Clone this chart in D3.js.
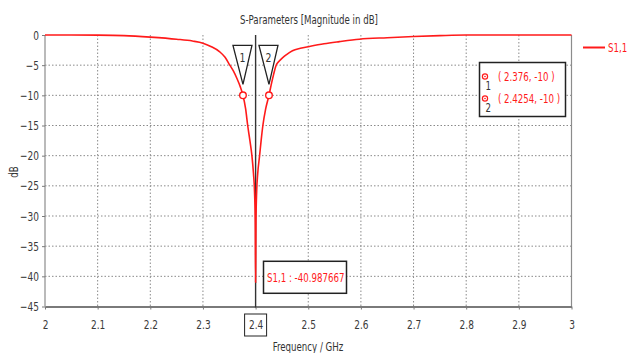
<!DOCTYPE html>
<html><head><meta charset="utf-8">
<script src="https://cdn.jsdelivr.net/npm/d3@7"></script>
<style>
body{margin:0;background:#fff;}
text{font-family:"DejaVu Sans Condensed","DejaVu Sans",sans-serif;}
</style></head>
<body><svg id="c" width="629" height="353"></svg>
<script>
// ---- data ----
const freq = [2.0,2.05,2.1,2.15,2.2,2.25,2.28,2.3,2.315,2.332,2.342,2.351,2.358,2.365,2.371,2.376,2.381,2.385,2.389,2.393,2.396,2.398,2.3993,2.4,2.4007,2.402,2.404,2.4076,2.4105,2.4138,2.419,2.4254,2.43,2.434,2.439,2.445,2.451,2.458,2.47,2.485,2.502,2.53,2.559,2.597,2.65,2.7,2.75,2.8,2.9,3.0];
const s11  = [0,0,-0.02,-0.1,-0.35,-0.7,-1.0,-1.35,-1.9,-2.8,-3.7,-5,-6,-7.3,-8.6,-10,-12.2,-15,-17.4,-20,-23,-26,-31,-40.99,-31,-26,-23,-20,-17.5,-15,-12.3,-10,-8.1,-6.6,-5,-4.3,-3.8,-3.3,-2.6,-2.2,-1.9,-1.45,-1.1,-0.7,-0.45,-0.25,-0.1,0,0,0];
const xTicks = [2,2.1,2.2,2.3,2.4,2.5,2.6,2.7,2.8,2.9,3];
const xTickLabels = ["2","2.1","2.2","2.3","2.4","2.5","2.6","2.7","2.8","2.9","3"];
const yTicks = [0,-5,-10,-15,-20,-25,-30,-35,-40,-45];
const markerNames = ["1","2"];
const markerFreq = [2.376, 2.4254];
const markerVal = [-10, -10];
const markerLabels = ["( 2.376, -10 )","( 2.4254, -10 )"];
const cursorFreq = 2.4;
const minLabel = "S1,1 : -40.987667";
const minVal = -40.987667;
const seriesName = "S1,1";
const title = "S-Parameters [Magnitude in dB]";
const xTitle = "Frequency / GHz";
const yTitle = "dB";

// ---- drawing ----
const svg = d3.select("#c");
const red = "#ff1a1a";
const x = d3.scaleLinear().domain([2,3]).range([45,571.5]);
const y = d3.scaleLinear().domain([-45,0]).range([306.5,35]);

// grid
const g = svg.append("g");
g.selectAll(".gx").data(xTicks.filter(d=>d>2&&d<3&&d!==cursorFreq)).join("line")
  .attr("x1",d=>x(d)).attr("x2",d=>x(d)).attr("y1",y(0)).attr("y2",y(-45))
  .attr("stroke","#8a8a8a").attr("stroke-dasharray","1.5,2").attr("stroke-width",1);
g.selectAll(".gy").data(yTicks.filter(d=>d<0&&d>-45)).join("line")
  .attr("x1",x(2)).attr("x2",x(3)).attr("y1",d=>y(d)).attr("y2",d=>y(d))
  .attr("stroke","#8a8a8a").attr("stroke-dasharray","1.5,2").attr("stroke-width",1);

// frame lines
svg.append("line").attr("x1",x(2)).attr("x2",x(2)).attr("y1",y(0)).attr("y2",y(-45)).attr("stroke","#8c8c8c").attr("stroke-width",1.2);
svg.append("line").attr("x1",x(3)).attr("x2",x(3)).attr("y1",y(0)).attr("y2",y(-45)).attr("stroke","#8c8c8c").attr("stroke-width",1.2);

// axes
const ax = svg.append("g").attr("transform",`translate(0,${y(-45)})`)
  .call(d3.axisBottom(x).tickValues(xTicks).tickFormat((d,i)=>xTickLabels[i]).tickSize(3).tickSizeOuter(0).tickPadding(11));
ax.select(".domain").attr("stroke","#7a7a7a").attr("stroke-width",2);
ax.selectAll(".tick line").attr("stroke","#7a7a7a");
ax.selectAll("text").attr("fill","#3a3a3a").style("font-size","12.5px");

const ay = svg.append("g").attr("transform",`translate(${x(2)},0)`)
  .call(d3.axisLeft(y).tickValues(yTicks).tickSize(3).tickSizeOuter(0).tickPadding(3));
ay.select(".domain").remove();
ay.selectAll(".tick line").attr("stroke","#7a7a7a");
ay.selectAll("text").attr("fill","#3a3a3a").style("font-size","12.5px");

// cursor line
svg.append("line").attr("x1",x(cursorFreq)).attr("x2",x(cursorFreq)).attr("y1",y(0)).attr("y2",y(-45)+1)
  .attr("stroke","#333").attr("stroke-width",1.4);
// cursor label box
svg.append("rect").attr("x",x(cursorFreq)-11).attr("y",314).attr("width",22).attr("height",22)
  .attr("fill","none").attr("stroke","#222").attr("stroke-width",1);

// curve
const line = d3.line().x((d,i)=>x(freq[i])).y(d=>y(d)).curve(d3.curveMonotoneX);
svg.append("path").datum(s11).attr("d",line).attr("fill","none").attr("stroke",red).attr("stroke-width",1.6);

// titles
svg.append("text").attr("x",309).attr("y",24).attr("text-anchor","middle").attr("fill","#333").style("font-size","12px").text(title);
svg.append("text").attr("transform","translate(18,172) rotate(-90)").attr("text-anchor","middle").attr("fill","#333").style("font-size","12px").text(yTitle);
svg.append("text").attr("x",308).attr("y",351).attr("text-anchor","middle").attr("fill","#333").style("font-size","12px").text(xTitle);

// legend
svg.append("line").attr("x1",583).attr("x2",605).attr("y1",47.5).attr("y2",47.5).attr("stroke",red).attr("stroke-width",2);
svg.append("text").attr("x",608).attr("y",52).attr("fill",red).style("font-size","12px").text(seriesName);

// markers on curve
markerFreq.forEach((f,i)=>{
  const mx = x(f), my = y(markerVal[i]);
  svg.append("path").attr("d",`M${mx-10},${my-50}L${mx+9},${my-50}L${mx},${my-11}Z`)
    .attr("fill","#fff").attr("stroke","#222").attr("stroke-width",1.3);
  svg.append("text").attr("x",mx-0.5).attr("y",my-33).attr("text-anchor","middle").attr("fill","#333").style("font-size","13px").text(markerNames[i]);
  svg.append("circle").attr("cx",mx).attr("cy",my).attr("r",3.3).attr("fill","#fff").attr("stroke",red).attr("stroke-width",1.4);
});

// marker box
svg.append("rect").attr("x",479.5).attr("y",62.5).attr("width",86).attr("height",54).attr("fill","#fff").attr("stroke","#222").attr("stroke-width",1.5);
markerLabels.forEach((t,i)=>{
  const cy = 76.5 + i*22;
  svg.append("circle").attr("cx",485).attr("cy",cy).attr("r",2.6).attr("fill","none").attr("stroke",red).attr("stroke-width",1.2);
  svg.append("circle").attr("cx",485).attr("cy",cy).attr("r",0.8).attr("fill",red);
  svg.append("text").attr("x",485.5).attr("y",cy+13).attr("fill","#333").style("font-size","12px").text(markerNames[i]);
  svg.append("text").attr("x",498).attr("y",cy+4.5).attr("fill",red).style("font-size","12px").text(t);
});

// min annotation
svg.append("rect").attr("x",263.5).attr("y",y(minVal)-21).attr("width",83).attr("height",32).attr("fill","#fff").attr("stroke","#222").attr("stroke-width",1.5);
svg.append("text").attr("x",267).attr("y",y(minVal)).attr("fill",red).style("font-size","12px").text(minLabel);

// squeeze all text horizontally to mimic the narrow source font
svg.selectAll("text").each(function(){
  const L = this.getComputedTextLength();
  if (L > 0) { this.setAttribute("textLength", (L*0.8).toFixed(2)); this.setAttribute("lengthAdjust","spacingAndGlyphs"); }
});
</script></body></html>
